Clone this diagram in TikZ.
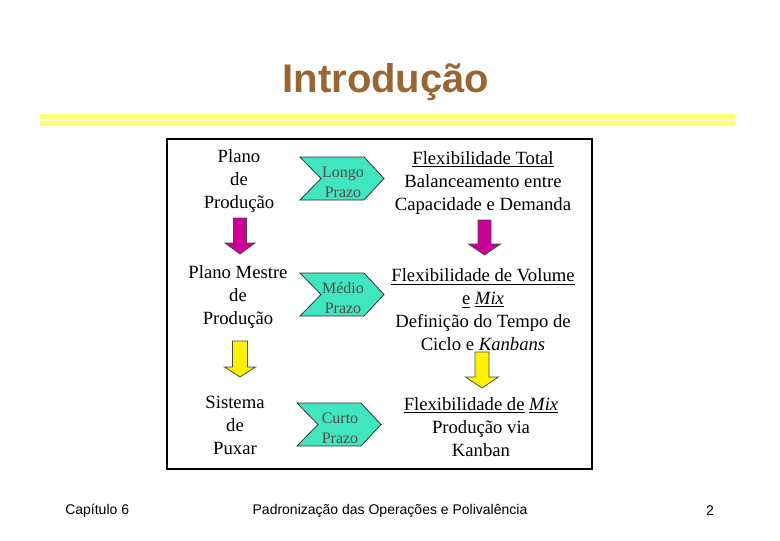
\documentclass[tikz,border=0pt]{standalone}
\usepackage{fontspec}
\setmainfont{Liberation Serif}
\newfontfamily\arialfont{Liberation Sans}
\definecolor{titlecol}{RGB}{153,102,51}
\definecolor{lineyel}{RGB}{255,255,110}
\definecolor{linegrn}{RGB}{110,220,80}
\definecolor{chevcol}{RGB}{64,230,192}
\definecolor{magcol}{RGB}{204,0,153}
\newcommand{\mychevron}[4]{%
  \draw[chevshape] (#2,#3) -- ++(64,0) -- ++(20,21.5) -- ++(-20,21.5) -- ++(-64,0) -- ++(21,-21.5) -- cycle;
  \node[chevtxt] (#1) at ({#2+43},{#3+25.5}) {#4};}
% #1 style, #2 x centre, #3 shaft top, #4 head start, #5 tip, #6 shaft half width, #7 head half width
\newcommand{\myblockarrow}[7]{%
  \draw[#1] ({#2-#6},#3) -- ({#2+#6},#3) -- ({#2+#6},#4) -- ({#2+#7},#4) -- (#2,#5)
     -- ({#2-#7},#4) -- ({#2-#6},#4) -- cycle;}
\begin{document}
\begin{tikzpicture}[x=0.75pt,y=-0.75pt,
  txt/.style={font=\fontsize{14}{17.25}\selectfont, align=center, inner sep=0pt},
  chevtxt/.style={font=\fontsize{12}{15}\selectfont, align=center, inner sep=0pt, text=black!70},
  chevshape/.style={fill=chevcol, draw=black!80, line width=0.6pt, line join=miter},
  magarrow/.style={fill=magcol, draw=black!70, line width=0.6pt},
  yelarrow/.style={fill=yellow, draw=black!70, line width=0.6pt},
  foot/.style={font=\arialfont\fontsize{10.5}{12}\selectfont, inner sep=0pt}]
\useasboundingbox (0,0) rectangle (780,540);
\fill[white] (0,0) rectangle (780,540);
% title
\node[font=\arialfont\bfseries\fontsize{30}{36}\selectfont, text=titlecol, inner sep=0pt] (title) at (386,82) {Introdução};
% double rule
\fill[left color=lineyel, middle color=linegrn, right color=lineyel] (40,114) rectangle (735,118.5);
\fill[left color=lineyel, middle color=linegrn, right color=lineyel] (40,121) rectangle (735,125.5);
% frame
\draw[line width=0.9pt] (167,139) rectangle (592,469);
% left column
\node[txt] (l1) at (239,181) {Plano\\de\\Produção};
\node[txt] (l2) at (238,297) {Plano Mestre\\de\\Produção};
\node[txt] (l3) at (235,425) {Sistema\\de\\Puxar};
% chevrons
\mychevron{c1}{300}{157}{Longo\\Prazo}
\mychevron{c2}{300}{273}{Médio\\Prazo}
\mychevron{c3}{297}{403}{Curto\\Prazo}
% right column
\node[txt] (r1) at (483,183) {\underline{Flexibilidade Total}\\Balanceamento entre\\Capacidade e Demanda};
\node[txt] (r2) at (483,310) {\underline{Flexibilidade de Volume}\\\underline{e} \underline{\textit{Mix}}\\Definição do Tempo de\\Ciclo e \textit{Kanbans}};
\node[txt] (r3) at (481,427) {\underline{Flexibilidade de} \underline{\textit{Mix}}\\Produção via\\Kanban};
% block arrows
\myblockarrow{magarrow}{240}{218}{243}{254}{6.5}{15}
\myblockarrow{magarrow}{484.5}{220}{244}{255}{6.5}{16}
\myblockarrow{yelarrow}{240}{341}{367}{377}{7.5}{15.5}
\myblockarrow{yelarrow}{482}{352}{377}{388}{7}{16.5}
% footer
\node[foot, anchor=west] (f1) at (65,511) {Capítulo 6};
\node[foot] (f2) at (390,511) {Padronização das Operações e Polivalência};
\node[foot] (f3) at (710,511) {2};
\end{tikzpicture}
\end{document}
